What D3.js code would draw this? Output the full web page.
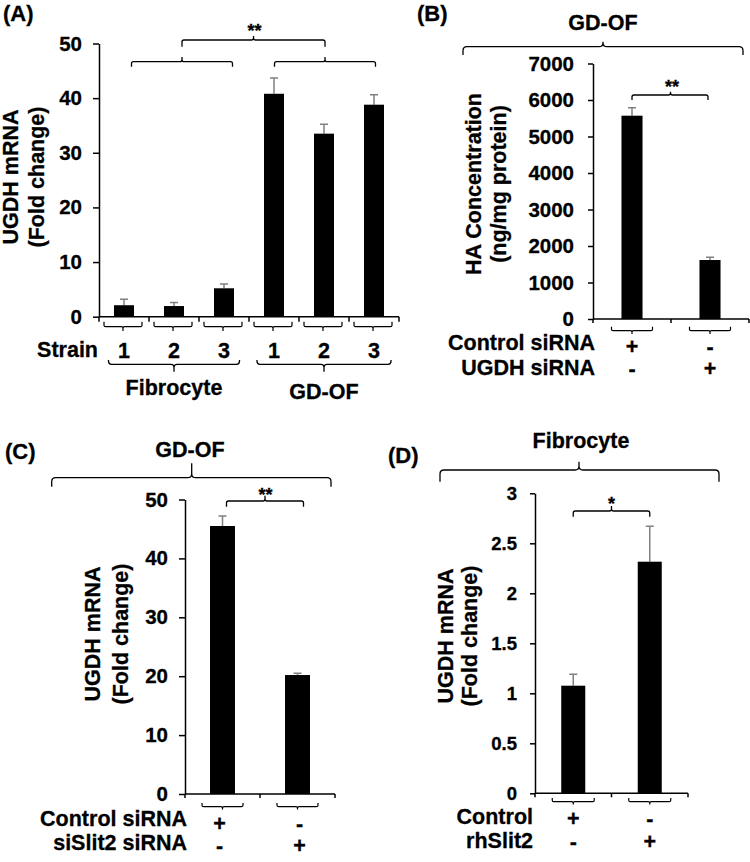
<!DOCTYPE html>
<html><head><meta charset="utf-8">
<script src="https://cdn.jsdelivr.net/npm/d3@7"></script>
<style>body{margin:0;background:#fff} svg{display:block}</style>
</head><body><svg id="c" width="750" height="862"></svg>
<script>
// ---------- data ----------
const aStrains = ["1", "2", "3", "1", "2", "3"];
const aGroups = ["Fibrocyte", "GD-OF"];
const aMeans = [2.1, 1.95, 5.2, 40.8, 33.5, 38.8];
const aErr = [1.1, 0.65, 0.8, 2.9, 1.7, 1.8];
const aTicks = [0, 10, 20, 30, 40, 50];

const bRowLabels = ["Control siRNA", "UGDH siRNA"];
const bRow1 = ["+", "-"];
const bRow2 = ["-", "+"];
const bMeans = [5570, 1616];
const bErr = [220, 75];
const bTicks = [0, 1000, 2000, 3000, 4000, 5000, 6000, 7000];

const cRowLabels = ["Control siRNA", "siSlit2 siRNA"];
const cRow1 = ["+", "-"];
const cRow2 = ["-", "+"];
const cMeans = [45.5, 20.2];
const cErr = [1.7, 0.3];
const cTicks = [0, 10, 20, 30, 40, 50];

const dRowLabels = ["Control", "rhSlit2"];
const dRow1 = ["+", "-"];
const dRow2 = ["-", "+"];
const dMeans = [1.076, 2.316];
const dErr = [0.114, 0.355];
const dTicks = [0, 0.5, 1, 1.5, 2, 2.5, 3];

// ---------- helpers ----------
const FONT = '"Liberation Sans", Arial, Helvetica, sans-serif';
const svg = d3.select("#c");
const LBL = 21.5;

function styleText(sel, size) {
  return sel.attr("font-family", FONT).attr("font-weight", "bold")
    .attr("font-size", size).attr("fill", "#000")
    .attr("stroke", "#000").attr("stroke-width", 0.3);
}
function txt(g, x, y, s, size, anchor) {
  return styleText(g.append("text").attr("x", x).attr("y", y).text(s), size)
    .attr("text-anchor", anchor || "start");
}
function vtxt(g, bx, cy, s, size) {
  return styleText(g.append("text").attr("transform", `translate(${bx},${cy}) rotate(-90)`).text(s), size)
    .attr("text-anchor", "middle");
}
function bracket(g, x1, x2, xm, yTip, yBar, yTop, r, w) {
  const d = Math.sign(yTip - yBar);
  const p = d3.path();
  p.moveTo(x1, yTip); p.lineTo(x1, yBar + d * r); p.quadraticCurveTo(x1, yBar, x1 + r, yBar);
  p.lineTo(xm - r, yBar); p.quadraticCurveTo(xm, yBar, xm, yBar - d * r); p.lineTo(xm, yTop);
  p.moveTo(xm, yBar - d * r); p.quadraticCurveTo(xm, yBar, xm + r, yBar);
  p.lineTo(x2 - r, yBar); p.quadraticCurveTo(x2, yBar, x2, yBar + d * r); p.lineTo(x2, yTip);
  g.append("path").attr("d", p.toString()).attr("fill", "none")
    .attr("stroke", "#000").attr("stroke-width", w || 1.3);
}

function panel(cfg) {
  const g = svg.append("g");
  const n = cfg.means.length;
  const x = d3.scaleBand().domain(d3.range(n)).range([cfg.x0, cfg.x1]).padding(0);
  const y = d3.scaleLinear().domain([0, d3.max(cfg.ticks)]).range([cfg.y0, cfg.y1]);
  const bw = x.bandwidth() * cfg.barFrac;
  const cx = i => x(i) + x.bandwidth() / 2;

  // error bars (upper only)
  g.selectAll("path.err").data(cfg.means).join("path").attr("class", "err")
    .attr("d", (m, i) => {
      const t = y(m + cfg.err[i]);
      return `M${cx(i)},${y(m)}V${t}M${cx(i) - 4},${t}H${cx(i) + 4}`;
    })
    .attr("fill", "none").attr("stroke", "#808080").attr("stroke-width", 1.5);
  // bars
  g.selectAll("rect.bar").data(cfg.means).join("rect").attr("class", "bar")
    .attr("x", (m, i) => cx(i) - bw / 2).attr("y", m => y(m))
    .attr("width", bw).attr("height", m => y(0) - y(m)).attr("fill", "#000");

  // y axis
  const ax = g.append("g").attr("transform", `translate(${cfg.x0},0)`)
    .call(d3.axisLeft(y).tickValues(cfg.ticks).tickFormat(d => String(d))
      .tickSize(cfg.tickLen).tickPadding(cfg.tickPad).tickSizeOuter(0));
  ax.select(".domain").attr("stroke", "#000").attr("stroke-width", 1.5);
  ax.selectAll(".tick line").attr("stroke", "#000").attr("stroke-width", 1.5);
  styleText(ax.selectAll(".tick text"), cfg.tickFont);

  // x axis line and boundary ticks
  g.append("line").attr("x1", cfg.x0).attr("x2", cfg.x1).attr("y1", y(0)).attr("y2", y(0))
    .attr("stroke", "#000").attr("stroke-width", 1.5);
  const bounds = d3.range(n).map(i => x(i)).concat([cfg.x1]);
  g.selectAll("line.xt").data(bounds).join("line").attr("class", "xt")
    .attr("x1", d => d).attr("x2", d => d).attr("y1", y(0)).attr("y2", y(0) + cfg.xTickLen)
    .attr("stroke", "#000").attr("stroke-width", 1.5);

  // small brackets under each category
  d3.range(n).forEach(i => {
    const c = cx(i) + cfg.sub.dx;
    bracket(g, c - cfg.sub.half, c + cfg.sub.half, c, cfg.sub.yTip, cfg.sub.yBar, cfg.sub.yEnd, 1.5, 1.2);
  });
  return { g, x, y, cx };
}

// ---------- Panel A ----------
const A = panel({ means: aMeans, err: aErr, ticks: aTicks, x0: 99, x1: 399, y0: 316.7, y1: 43.5,
  barFrac: 0.4, tickLen: 6, tickPad: 11, tickFont: 20.5, xTickLen: 5,
  sub: { dx: -1, half: 19, yTip: 321.7, yBar: 326.7, yEnd: 331 } });
txt(A.g, 3, 21, "(A)", 22);
vtxt(A.g, 18, 177, "UGDH mRNA", LBL);
vtxt(A.g, 43.5, 177, "(Fold change)", LBL);
txt(A.g, 98, 357, "Strain", LBL, "end");
aStrains.forEach((s, i) => txt(A.g, A.cx(i), 358, s, LBL, "middle"));
// group brackets below
const aGroupIdx = [[0, 2], [3, 5]];
const aGroupHalf = [65.5, 67];
const aGroupBase = [395, 399];
aGroupIdx.forEach((gi, k) => {
  const m = (A.cx(gi[0]) + A.cx(gi[1])) / 2;
  bracket(A.g, m - aGroupHalf[k], m + aGroupHalf[k], m, 360, 364.3, 371.7, 3, 1.3);
  txt(A.g, m, aGroupBase[k], aGroups[k], LBL, "middle");
});
// significance brackets above
const aTopOff = [8, 1];
const aTopCenters = aGroupIdx.map((gi, k) => (A.cx(gi[0]) + A.cx(gi[1])) / 2 + aTopOff[k]);
aTopCenters.forEach(c => bracket(A.g, c - 50.5, c + 50.5, c, 66.7, 61.7, 57, 2, 1.3));
const aTopMid = (aTopCenters[0] + aTopCenters[1]) / 2;
bracket(A.g, aTopCenters[0], aTopCenters[1], aTopMid, 46.7, 40, 36, 2, 1.3);
txt(A.g, aTopMid + 1, 37, "**", 18, "middle");

// ---------- Panel B ----------
const B = panel({ means: bMeans, err: bErr, ticks: bTicks, x0: 593, x1: 749, y0: 319, y1: 63.5,
  barFrac: 0.27, tickLen: 5, tickPad: 14, tickFont: 20.5, xTickLen: 4,
  sub: { dx: 0, half: 20.5, yTip: 326.7, yBar: 330.7, yEnd: 334 } });
txt(B.g, 417, 21, "(B)", 22);
bracket(B.g, 463, 743, 603, 55, 46.7, 41.7, 4, 1.3);
txt(B.g, 603, 30, "GD-OF", LBL, "middle");
vtxt(B.g, 481, 184, "HA Concentration", LBL);
vtxt(B.g, 505.5, 184, "(ng/mg protein)", LBL);
bracket(B.g, B.cx(0), B.cx(1) - 2, (B.cx(0) + B.cx(1)) / 2 - 0.5, 100, 95, 91.7, 2, 1.3);
txt(B.g, (B.cx(0) + B.cx(1)) / 2 + 1, 93, "**", 18, "middle");
txt(B.g, 595, 350, bRowLabels[0], LBL, "end");
txt(B.g, 595, 375, bRowLabels[1], LBL, "end");
bRow1.forEach((s, i) => txt(B.g, B.cx(i), 354, s, LBL, "middle"));
bRow2.forEach((s, i) => txt(B.g, B.cx(i), 376, s, LBL, "middle"));

// ---------- Panel C ----------
const C = panel({ means: cMeans, err: cErr, ticks: cTicks, x0: 185, x1: 335, y0: 794, y1: 499.5,
  barFrac: 0.333, tickLen: 6, tickPad: 11, tickFont: 20.5, xTickLen: 4,
  sub: { dx: 0, half: 20.5, yTip: 803, yBar: 806.7, yEnd: 809.5 } });
txt(C.g, 5, 459, "(C)", 22);
bracket(C.g, 51.7, 331, 191.7, 486.7, 477.7, 463.3, 4, 1.3);
txt(C.g, 190, 457, "GD-OF", LBL, "middle");
vtxt(C.g, 100, 634, "UGDH mRNA", LBL);
vtxt(C.g, 127.5, 634, "(Fold change)", LBL);
bracket(C.g, C.cx(0) + 4, C.cx(1) + 6, (C.cx(0) + C.cx(1)) / 2 + 5, 506.7, 501, 495.7, 2, 1.3);
txt(C.g, (C.cx(0) + C.cx(1)) / 2 + 5.5, 500.5, "**", 18, "middle");
txt(C.g, 187, 826, cRowLabels[0], LBL, "end");
txt(C.g, 187, 850, cRowLabels[1], LBL, "end");
cRow1.forEach((s, i) => txt(C.g, C.cx(i) - 3 + 5 * i, 831, s, LBL, "middle"));
cRow2.forEach((s, i) => txt(C.g, C.cx(i) - 3 + 5 * i, 853, s, LBL, "middle"));

// ---------- Panel D ----------
const D = panel({ means: dMeans, err: dErr, ticks: dTicks, x0: 535, x1: 688, y0: 793.3, y1: 493.3,
  barFrac: 0.314, tickLen: 5, tickPad: 13, tickFont: 18.5, xTickLen: 4,
  sub: { dx: 0, half: 21, yTip: 798, yBar: 801.7, yEnd: 804.5 } });
txt(D.g, 388, 463, "(D)", 22);
bracket(D.g, 440, 719, 579, 481.7, 470, 461.7, 4, 1.3);
txt(D.g, 581, 448, "Fibrocyte", LBL, "middle");
vtxt(D.g, 453, 636, "UGDH mRNA", LBL);
vtxt(D.g, 477, 636, "(Fold change)", LBL);
bracket(D.g, D.cx(0), D.cx(1), (D.cx(0) + D.cx(1)) / 2, 516.7, 511, 506, 2, 1.3);
txt(D.g, (D.cx(0) + D.cx(1)) / 2, 510, "*", 18, "middle");
txt(D.g, 533, 824, dRowLabels[0], LBL, "end");
txt(D.g, 533, 848, dRowLabels[1], LBL, "end");
dRow1.forEach((s, i) => txt(D.g, D.cx(i), 826, s, LBL, "middle"));
dRow2.forEach((s, i) => txt(D.g, D.cx(i), 849, s, LBL, "middle"));
</script>
</body></html>
